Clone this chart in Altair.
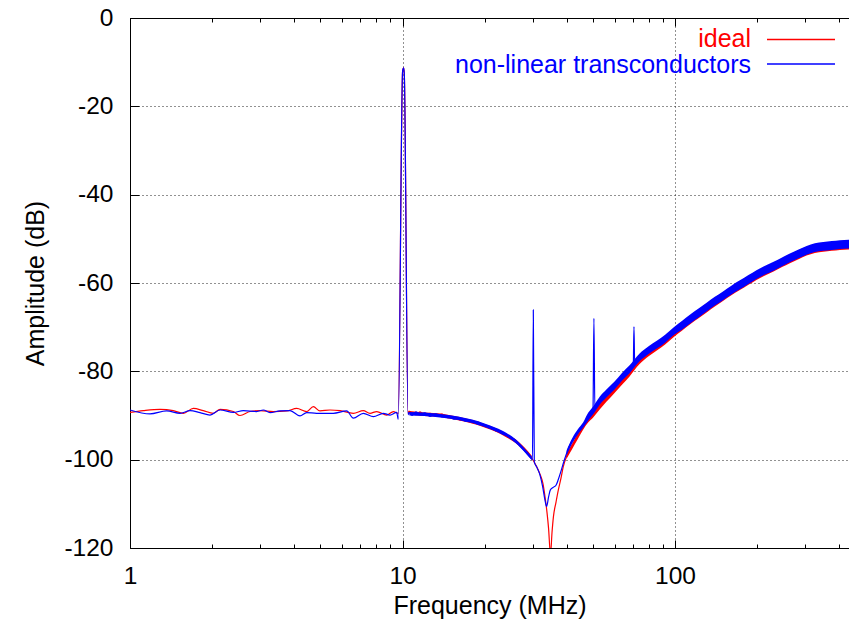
import altair as alt
import pandas as pd

FONT = "Liberation Sans"

# ---- "ideal" trace (red) ----
ideal_f = [1.0, 1.119, 1.288, 1.442, 1.569, 1.708, 1.858, 2.022, 2.14, 2.395, 2.533, 2.757, 3.0, 3.357,
           3.76, 4.09, 4.448, 4.706, 4.98, 5.42, 5.9, 6.6, 7.18, 7.6, 8.04, 8.75, 9.26, 9.65,
           10.01, 10.09, 10.15, 10.48,
           10.56, 10.84, 11.21, 11.59, 12.09, 12.62, 13.27, 13.96, 14.69, 15.45, 16.25, 17.10, 17.99,
           18.93, 19.91, 20.95, 22.03, 23.18, 24.38, 25.65, 26.99, 28.39, 29.63, 30.9, 31.96, 32.78,
           33.34, 33.91, 34.35, 34.92, 35.37, 35.8, 36.59, 37.3, 38.16, 38.9, 40.15, 41.8, 43.7, 46.1,
           48.8, 51.6, 54.4, 57.7, 61.3, 65.0, 69.5, 74.4, 85.7, 98.6, 113.5, 130.7, 150.4, 173.2,
           199.4, 229.5, 264.2, 304.2, 350.2, 403.3, 464.5]
ideal_db = [-89.3, -88.9, -88.6, -88.9, -89.5, -88.4, -88.9, -89.5, -88.6, -89.1, -90.0, -89.1, -88.9, -89.1,
            -88.97, -88.4, -89.1, -88.0, -88.97, -88.75, -88.9, -89.5, -88.9, -89.5, -89.1, -89.9, -89.1, -89.5,
            -12.0, -11.3, -12.5, -89.5,
            -89.0, -89.6, -89.8, -89.2, -90.0, -89.5, -90.1, -89.7, -90.5, -90.3, -91.0, -90.9, -91.6,
            -91.5, -92.4, -92.6, -93.5, -93.8, -94.9, -95.4, -96.6, -98.0, -99.4, -101.3, -103.3, -105.5,
            -108.4, -112.0, -115.5, -121.5, -116.5, -112.9, -109.6, -106.9, -104.2, -101.6, -99.0, -97.1, -94.9, -92.5,
            -90.3, -88.7, -87.0, -85.0, -83.2, -81.0, -79.0, -77.3, -74.3, -71.4, -68.6, -65.8, -63.3, -60.8,
            -58.5, -56.5, -54.6, -52.9, -51.9, -51.4, -51.2]

# ---- "non-linear transconductors" trace (blue) ----
nl_f = [1.0, 1.184, 1.363, 1.526, 1.661, 1.807, 1.966, 2.14, 2.395, 2.606, 2.917, 3.085, 3.265, 3.552,
        3.866, 4.206, 4.448, 4.84, 5.57, 6.24, 6.6, 7.18, 7.82, 8.5, 9.0, 9.52, 9.65,
        10.01, 10.09, 10.15, 10.48,
        10.56, 10.84, 11.21, 11.59, 12.09, 12.62, 13.27, 13.96, 14.69, 15.45, 16.25, 17.10, 17.99,
        18.93, 19.91, 20.95, 22.03, 23.18, 24.38, 25.65, 26.99, 28.39, 29.63, 29.99, 30.2, 30.45,
        31.16, 31.96, 32.65, 33.34, 33.8, 34.35, 34.85, 35.67, 36.59, 37.3, 38.16, 39.15, 40.15,
        41.53, 43.3, 45.6, 47.94, 50.0, 50.4, 50.8, 53.1, 55.84, 59.3, 62.84, 66.68, 70.3, 70.7, 71.1,
        74.4, 85.7, 98.6, 113.5, 130.7, 150.4, 173.2, 199.4, 229.5, 264.2, 304.2, 350.2, 403.3, 464.5]
nl_db = [-88.75, -89.65, -88.97, -89.5, -88.9, -89.35, -89.9, -88.75, -89.3, -88.9, -89.1, -88.75, -89.35, -88.97,
         -88.9, -90.1, -89.35, -89.5, -89.5, -88.97, -90.6, -89.5, -90.25, -89.5, -89.9, -89.3, -90.85,
         -12.0, -11.3, -12.5, -89.8,
         -89.3, -90.0, -89.2, -89.8, -89.4, -90.2, -89.6, -90.3, -90.1, -90.8, -90.6, -91.3, -91.2,
         -92.0, -92.1, -92.9, -93.2, -94.1, -94.6, -95.6, -96.8, -98.4, -99.7, -100.0, -66.1, -100.5,
         -101.8, -103.5, -106.0, -109.2, -110.6, -108.5, -106.9, -106.3, -105.8, -104.5, -102.6, -100.3, -98.3,
         -96.1, -94.5, -92.6, -90.6, -88.9, -68.0, -88.4, -86.5, -85.2, -83.4, -81.6, -80.0, -78.3, -69.9, -77.9,
         -76.8, -73.8, -70.9, -68.1, -65.4, -62.9, -60.4, -58.1, -56.2, -54.3, -52.6, -51.7, -51.3, -51.2]

band1_f = [10.6, 12, 14, 16, 18, 20, 22, 24, 26, 28, 29.8]
nl_band1_lo = [-90.0, -90.1, -90.5, -91.0, -91.7, -92.6, -93.6, -94.7, -96.2, -98.2, -100.1]
nl_band1_hi = [-89.2, -89.3, -89.7, -90.2, -90.9, -91.8, -92.8, -93.9, -95.4, -97.4, -99.3]
ideal_band1_lo = [-89.8, -90.1, -90.4, -91.1, -91.8, -92.7, -93.7, -94.9, -96.2, -98.0, -99.9]
ideal_band1_hi = [-89.0, -89.3, -89.6, -90.3, -91.0, -91.9, -92.9, -94.1, -95.4, -97.2, -99.1]

band2_f = [40, 42, 44, 46, 48, 50, 53, 56, 60, 64, 68, 74, 80, 86, 92, 99, 106, 114, 122, 131, 140,
           150, 161, 173, 186, 199, 214, 230, 247, 264, 284, 304, 326, 350, 376, 403, 433, 465]
nl_band2_lo = [-99.1, -96.3, -94.3, -92.8, -91.2, -89.8, -87.5, -85.9, -84.1, -82.1, -80.5, -77.8, -76.1,
               -74.8, -73.5, -71.8, -70.6, -69.1, -67.8, -66.4, -65.1, -63.9, -62.6, -61.4, -60.2, -59.1,
               -58.1, -57.2, -56.2, -55.3, -54.4, -53.6, -53.0, -52.7, -52.5, -52.3, -52.2, -52.1]
nl_band2_hi = [-97.9, -95.1, -93.1, -91.6, -89.4, -88.0, -85.7, -84.1, -82.3, -80.3, -78.7, -76.0, -74.3,
               -73.0, -71.7, -70.0, -68.6, -67.1, -65.8, -64.4, -63.1, -61.9, -60.6, -59.4, -58.2, -57.1,
               -56.1, -55.2, -54.2, -53.3, -52.4, -51.6, -51.0, -50.7, -50.5, -50.3, -50.2, -50.1]
ideal_band2_lo = [-99.8, -97.5, -95.3, -93.2, -91.6, -90.5, -88.6, -86.9, -84.9, -83.0, -81.2, -78.4, -76.6,
                  -75.2, -73.9, -72.2, -70.8, -69.3, -68.0, -66.6, -65.3, -64.1, -62.8, -61.6, -60.4, -59.3,
                  -58.3, -57.4, -56.4, -55.5, -54.6, -53.8, -53.2, -52.9, -52.7, -52.5, -52.4, -52.3]
ideal_band2_hi = [-98.6, -96.3, -94.1, -92.0, -89.8, -88.7, -86.8, -85.1, -83.1, -81.2, -79.4, -76.6, -74.8,
                  -73.4, -72.1, -70.4, -68.8, -67.3, -66.0, -64.6, -63.3, -62.1, -60.8, -59.6, -58.4, -57.3,
                  -56.3, -55.4, -54.4, -53.5, -52.6, -51.8, -51.2, -50.9, -50.7, -50.5, -50.4, -50.3]

# ---- axes ----
x_major = [1, 10, 100]
x_minor = [2, 3, 4, 5, 6, 7, 8, 9, 20, 30, 40, 50, 60, 70, 80, 90, 200, 300, 400]
y_major = [-120, -100, -80, -60, -40, -20, 0]
x_domain = [1, 435]
y_domain = [-120, 0]

legend_labels = ["ideal", "non-linear transconductors"]
RED = "#ff0000"
BLUE = "#0000ff"

xs = alt.Scale(type="log", domain=x_domain, nice=False)
ys = alt.Scale(domain=y_domain, nice=False, zero=False)

GRID = dict(grid=True, gridDash=[1, 3], gridColor="#222222", gridWidth=1)


def inward(orient, values, size):
    return alt.Axis(orient=orient, values=values, offset=-size, tickSize=size, ticks=True,
                    labels=False, domain=False, grid=False, title=None, tickColor="black", tickWidth=1)


x_main = alt.Axis(orient="bottom", values=x_major, labelExpr="'' + datum.value", ticks=False, tickSize=0,
                  labelPadding=16, labelFlush=False, domain=True, domainColor="black", title="Frequency (MHz)",
                  titlePadding=6, **GRID)
y_main = alt.Axis(orient="left", values=y_major, labelExpr="'' + datum.value", ticks=False, tickSize=0,
                  labelPadding=17, labelFlush=False, domain=True, domainColor="black", title="Amplitude (dB)",
                  titlePadding=15, **GRID)
x_top = alt.Axis(orient="top", domain=True, domainColor="black", ticks=False, labels=False, grid=False, title=None)


def band_df(f1, lo1, hi1, f2, lo2, hi2):
    return pd.DataFrame({"f": f1 + f2, "lo": lo1 + lo2, "hi": hi1 + hi2,
                         "seg": [1] * len(f1) + [2] * len(f2)})


ideal_band = band_df(band1_f, ideal_band1_lo, ideal_band1_hi, band2_f, ideal_band2_lo, ideal_band2_hi)
nl_band = band_df(band1_f, nl_band1_lo, nl_band1_hi, band2_f, nl_band2_lo, nl_band2_hi)

red_band = alt.Chart(ideal_band).mark_area(color=RED, clip=True, opacity=1, interpolate="monotone").encode(
    x=alt.X("f:Q", scale=xs, axis=x_main),
    y=alt.Y("lo:Q", scale=ys, axis=y_main),
    y2="hi:Q",
    detail="seg:N",
)
red_line = alt.Chart(pd.DataFrame({"f": ideal_f, "db": ideal_db})).mark_line(
    color=RED, strokeWidth=1.2, clip=True, interpolate="monotone").encode(
    x=alt.X("f:Q", scale=xs, axis=x_top),
    y=alt.Y("db:Q", scale=ys, axis=None),
)
blue_band = alt.Chart(nl_band).mark_area(color=BLUE, clip=True, opacity=1, interpolate="monotone").encode(
    x=alt.X("f:Q", scale=xs, axis=inward("bottom", x_major, 8)),
    y=alt.Y("lo:Q", scale=ys, axis=inward("left", y_major, 9)),
    y2="hi:Q",
    detail="seg:N",
)
blue_line = alt.Chart(pd.DataFrame({"f": nl_f, "db": nl_db})).mark_line(
    color=BLUE, strokeWidth=1.2, clip=True, interpolate="monotone").encode(
    x=alt.X("f:Q", scale=xs, axis=inward("bottom", x_minor, 4)),
    y=alt.Y("db:Q", scale=ys, axis=None),
)
top_major = alt.Chart(pd.DataFrame({"f": x_major})).mark_point(opacity=0).encode(
    x=alt.X("f:Q", scale=xs, axis=inward("top", x_major, 8)),
    y=alt.value(0),
)
top_minor = alt.Chart(pd.DataFrame({"f": x_minor})).mark_point(opacity=0).encode(
    x=alt.X("f:Q", scale=xs, axis=inward("top", x_minor, 4)),
    y=alt.value(0),
)

one = pd.DataFrame({"k": [0]})
leg_text1 = alt.Chart(one).mark_text(align="right", baseline="alphabetic", fontSize=25, font=FONT,
                                     color=RED).encode(x=alt.value(621), y=alt.value(28.5),
                                                       text=alt.value(legend_labels[0]))
leg_rule1 = alt.Chart(one).mark_rule(color=RED, strokeWidth=1.3).encode(
    x=alt.value(637), x2=alt.value(705), y=alt.value(21.5))
leg_text2 = alt.Chart(one).mark_text(align="right", baseline="alphabetic", fontSize=25, font=FONT,
                                     color=BLUE).encode(x=alt.value(621), y=alt.value(55),
                                                        text=alt.value(legend_labels[1]))
leg_rule2 = alt.Chart(one).mark_rule(color=BLUE, strokeWidth=1.3).encode(
    x=alt.value(637), x2=alt.value(705), y=alt.value(46))

chart = alt.layer(
    red_band, red_line, blue_band, blue_line, top_major, top_minor,
    leg_text1, leg_rule1, leg_text2, leg_rule2,
).resolve_axis(x="independent", y="independent").properties(
    width=719, height=530,
    autosize=alt.AutoSizeParams(type="none"),
    padding={"left": 122, "top": 10, "right": 0, "bottom": 71},
    background="white",
).configure_view(stroke=None).configure_axis(
    labelFont=FONT, titleFont=FONT, labelFontSize=24.5, titleFontSize=25,
    labelColor="black", titleColor="black", titleFontWeight="normal",
)

chart.save("out.html", embed_options={"renderer": "svg", "actions": False})
